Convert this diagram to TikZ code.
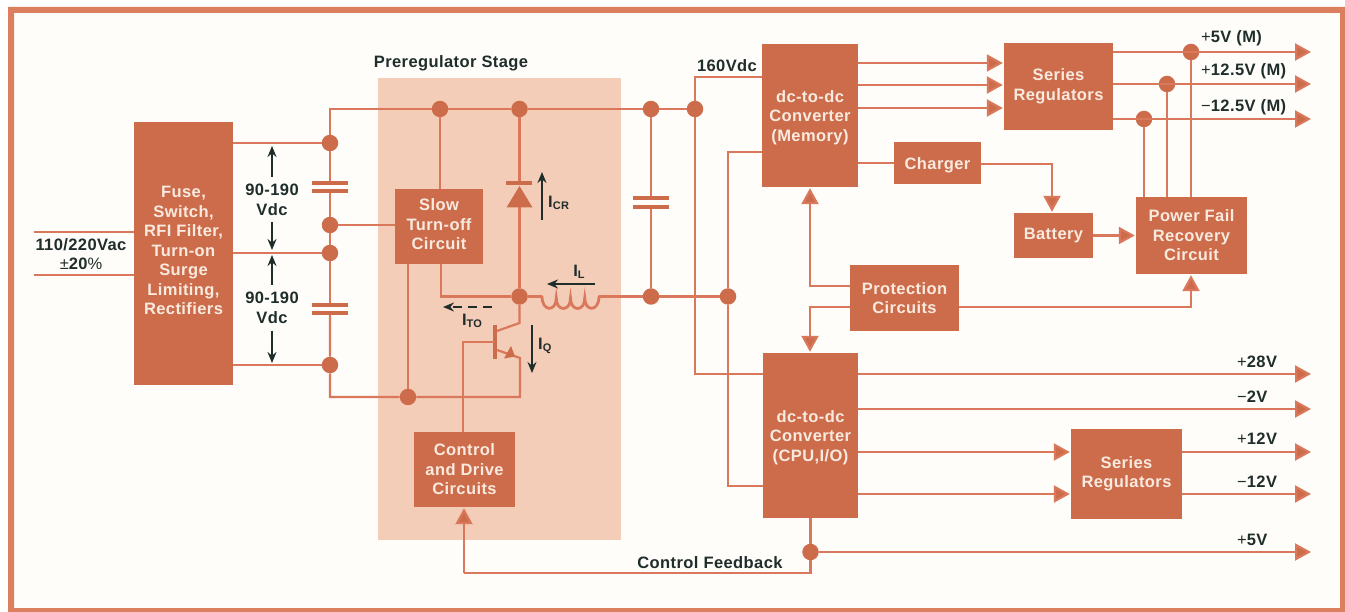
\documentclass[tikz,border=0pt]{standalone}
\usepackage{fontspec}
\setmainfont{Liberation Sans}[LetterSpace=2.5]
\usetikzlibrary{arrows.meta}
\definecolor{framec}{HTML}{DB7F5E}
\definecolor{boxc}{HTML}{CC6C4B}
\definecolor{wirec}{HTML}{D9785A}
\definecolor{shadec}{HTML}{F4CDB9}
\definecolor{paperc}{HTML}{FEFDF9}
\definecolor{inkc}{HTML}{1F2D2B}
\definecolor{boxtext}{HTML}{F9EADF}
\newcommand{\lblfont}{\fontsize{16.5}{19.5}\selectfont\bfseries}
\newcommand{\subs}[1]{\raisebox{-2.5pt}{\fontsize{11}{11}\selectfont #1}}
\newcommand{\thin}[1]{{\mdseries #1}}
\newcommand{\topstrut}[1]{\rule{0pt}{#1pt}}
\newcommand{\botstrut}[1]{\rule[-#1pt]{0pt}{0pt}}
\tikzset{
  box/.style={fill=boxc,inner sep=0pt,align=center,text=boxtext,font=\lblfont},
  dot/.style={circle,fill=boxc,minimum size=16.5pt,inner sep=0pt},
  wire/.style={draw=wirec,line width=2.2pt,line join=miter},
  awire/.style={wire,-{Triangle[length=16pt,width=17pt,fill=boxc]},shorten >=1pt},
  plate/.style={draw=boxc,line width=3.6pt},
  lbl/.style={text=inkc,font=\lblfont,align=center,inner sep=0pt},
  meas/.style={draw=inkc,line width=1.6pt,-{Stealth[length=11pt,width=9pt]}},
}
\begin{document}
\begin{tikzpicture}[x=1pt,y=-1pt]
\useasboundingbox (0,0) rectangle (1345,612);
\fill[white] (0,0) rectangle (1345,612);
\fill[paperc] (14,13) rectangle (1340,608);
\fill[framec,even odd rule] (8,7) rectangle (1345,612) (14,13) rectangle (1340,608);
\fill[shadec] (378,78) rectangle (621,540);
% boxes
\node[box,minimum width=99pt,minimum height=263pt] (fuse) at (183.5,253.5) {Fuse,\\Switch,\\RFI Filter,\\Turn-on\\Surge\\Limiting,\\Rectifiers\botstrut{6}};
\node[box,minimum width=88pt,minimum height=75pt] (slow) at (439,226.5) {Slow\\Turn-off\\Circuit\botstrut{4}};
\node[box,minimum width=101pt,minimum height=75pt] (ctrl) at (464.5,469.5) {Control\\and Drive\\Circuits};
\node[box,minimum width=96pt,minimum height=143pt] (mem) at (810,115.5) {\topstrut{16}dc-to-dc\\Converter\\(Memory)};
\node[box,minimum width=87pt,minimum height=42pt] (chg) at (937.5,163) {\topstrut{16}Charger};
\node[box,minimum width=109pt,minimum height=66pt] (prot) at (904.5,298) {Protection\\Circuits};
\node[box,minimum width=95pt,minimum height=165pt] (cpu) at (810.5,435.5) {\topstrut{16}dc-to-dc\\Converter\\(CPU,I/O)};
\node[box,minimum width=111pt,minimum height=90pt] (ser2) at (1126.5,474) {Series\\Regulators};
\node[box,minimum width=109pt,minimum height=87pt] (ser1) at (1058.5,86.5) {Series\\Regulators};
\node[box,minimum width=79pt,minimum height=45pt] (batt) at (1053.5,235.5) {Battery};
\node[box,minimum width=111pt,minimum height=77pt] (pf) at (1191.5,235.5) {Power Fail\\Recovery\\Circuit};
% junction dots
\node[dot] (a1) at (330,143) {};
\node[dot] (a2) at (330,225) {};
\node[dot] (a3) at (330,253) {};
\node[dot] (a4) at (330,365) {};
\node[dot] (t1) at (440,109) {};
\node[dot] (t2) at (519.5,109) {};
\node[dot] (t3) at (651,109) {};
\node[dot] (t4) at (695,109) {};
\node[dot] (m1) at (519.5,296.5) {};
\node[dot] (m2) at (651,296.5) {};
\node[dot] (m3) at (728,296.5) {};
\node[dot] (b1) at (408,397) {};
\node[dot] (o1) at (1191,52) {};
\node[dot] (o2) at (1167,84) {};
\node[dot] (o3) at (1144,119) {};
\node[dot] (fb) at (810.5,552) {};
% free ends
\coordinate (ac1) at (34,232);
\coordinate (ac2) at (34,275);
\coordinate (railL) at (330,109);
\coordinate (botL) at (330,397);
\coordinate (botR) at (520,397);
\coordinate (c1t) at (330,183);
\coordinate (c1b) at (330,191);
\coordinate (c2t) at (330,305);
\coordinate (c2b) at (330,313);
\coordinate (c3t) at (651,198);
\coordinate (c3b) at (651,207);
\coordinate (dBar) at (519.5,183);
\coordinate (dBase) at (519.5,207);
\coordinate (coilL) at (542,296.5);
\coordinate (coilR) at (599,296.5);
\coordinate (vL) at (695,77);
\coordinate (vB) at (695,374);
\coordinate (wL) at (728,152);
\coordinate (wB) at (728,486);
\coordinate (slowFoot) at (441,296.5);
\coordinate (qC) at (519.5,323);
\coordinate (qCb) at (497,331);
\coordinate (qE) at (520,358);
\coordinate (qEb) at (497,350);
\coordinate (qB) at (495,342);
\coordinate (qBL) at (463,342);
\coordinate (chgR) at (1052,164);
\coordinate (protU) at (810,286);
\coordinate (protD) at (810,307);
\coordinate (protR) at (1191,307);
\coordinate (fbC) at (810.5,573);
\coordinate (fbL) at (464,573);
\foreach \n/\y in {e1/52,e2/84,e3/119,e4/374,e5/409,e6/452,e7/494,e8/552}{\coordinate (\n) at (1312,\y);}
% wires: input
\draw[wire] (ac1) -- (ac1 -| fuse.west);
\draw[wire] (ac2) -- (ac2 -| fuse.west);
\draw[wire] (fuse.east |- a1) -- (a1);
\draw[wire] (fuse.east |- a3) -- (a3);
\draw[wire] (fuse.east |- a4) -- (a4);
\draw[wire] (a1) -- (railL) -- (t1) -- (t2) -- (t3) -- (t4);
\draw[wire] (a1) -- (c1t);
\draw[wire] (c1b) -- (a2) -- (a3) -- (c2t);
\draw[wire] (c2b) -- (a4) -- (botL) -- (b1) -- (botR) -- (qE) -- (qEb);
\draw[plate] (312,183) -- (348,183);
\draw[plate] (312,191) -- (348,191);
\draw[plate] (312,305) -- (348,305);
\draw[plate] (312,313) -- (348,313);
\draw[wire] (a2) -- (a2 -| slow.west);
\draw[wire] (t1) -- (t1 |- slow.north);
\draw[wire] (b1) -- (b1 |- slow.south);
\draw[wire] (slowFoot |- slow.south) -- (slowFoot) -- (m1);
% diode
\draw[wire] (t2) -- (dBar);
\draw[wire] (dBase) -- (m1);
\draw[plate] (506,183) -- (532,183);
\fill[boxc] (506.5,207.5) -- (532.5,207.5) -- (519.5,186) -- cycle;
% coil
\draw[wire] (m1) -- (coilL);
\draw[wire,line width=2.8pt,line cap=round] (coilL) .. controls (542,312) and (556.25,312) .. (556.25,298)
  .. controls (556.25,312) and (570.5,312) .. (570.5,298)
  .. controls (570.5,312) and (584.75,312) .. (584.75,298)
  .. controls (584.75,312) and (599,312) .. (coilR);
\draw[wire] (coilR) -- (m2) -- (m3);
% output capacitor
\draw[wire] (t3) -- (c3t);
\draw[wire] (c3b) -- (m2);
\draw[plate] (633,198) -- (669,198);
\draw[plate] (633,207) -- (669,207);
% transistor
\draw[wire] (m1) -- (qC) -- (qCb);
\draw[draw=boxc,line width=3.6pt] (495,325) -- (495,359);
\draw[wire] (qB) -- (qBL) -- (qBL |- ctrl.north);
\fill[boxc] (515,356.5) -- (504,358.5) -- (511,346) -- cycle;
% bus verticals to converters
\draw[wire] (t4) -- (vL) -- (vL -| mem.west);
\draw[wire] (t4) -- (vB) -- (vB -| cpu.west);
\draw[wire] (wL -| mem.west) -- (wL) -- (m3) -- (wB) -- (wB -| cpu.west);
% memory side
\foreach \y in {63,85,108}{\draw[awire] (mem.east |- 0,\y) -- (ser1.west |- 0,\y);}
\draw[wire] (mem.east |- chg.west) -- (chg.west);
\draw[awire] (chg.east |- chgR) -- (chgR) -- (batt.north -| chgR);
\draw[awire] (batt.east) -- (pf.west |- batt.east);
\draw[awire] (ser1.east |- e1) -- (e1);
\draw[awire] (ser1.east |- e2) -- (e2);
\draw[awire] (ser1.east |- e3) -- (e3);
\draw[wire] (o1) -- (o1 |- pf.north);
\draw[wire] (o2) -- (o2 |- pf.north);
\draw[wire] (o3) -- (o3 |- pf.north);
% protection
\draw[awire] (prot.west |- protU) -- (protU) -- (protU |- mem.south);
\draw[awire] (prot.west |- protD) -- (protD) -- (protD |- cpu.north);
\draw[awire] (prot.east |- protR) -- (protR) -- (protR |- pf.south);
% cpu side
\draw[awire] (cpu.east |- e4) -- (e4);
\draw[awire] (cpu.east |- e5) -- (e5);
\draw[awire] (cpu.east |- e6) -- (ser2.west |- e6);
\draw[awire] (cpu.east |- e7) -- (ser2.west |- e7);
\draw[awire] (ser2.east |- e6) -- (e6);
\draw[awire] (ser2.east |- e7) -- (e7);
\draw[wire] (fb |- cpu.south) -- (fb) -- (fbC) -- (fbL);
\draw[awire] (fbL) -- (fbL |- ctrl.south);
\draw[awire] (fb) -- (e8);
% measurement arrows
\draw[meas] (272,177) -- (272,146);
\draw[meas] (272,222) -- (272,250);
\draw[meas] (272,285) -- (272,255);
\draw[meas] (272,331) -- (272,363);
\draw[meas] (542,220) -- (542,172);
\draw[meas] (595,284) -- (547,284);
\draw[meas,dashed,dash pattern=on 9pt off 6pt] (492,307) -- (443,307);
\draw[meas] (532,325) -- (532,373);
% labels
\node[lbl] (v1) at (272,200) {90-190\\Vdc};
\node[lbl] (v2) at (272,308) {90-190\\Vdc};
\node[lbl] (ac) at (81,254) {110/220Vac\\\thin{±}20\thin{\%}};
\node[lbl,anchor=west] (icr) at (548,203) {I\subs{CR}};
\node[lbl] (il) at (579,272) {I\subs{L}};
\node[lbl] (ito) at (472,321) {I\subs{TO}};
\node[lbl,anchor=west] (iq) at (538,346) {I\subs{Q}};
\node[lbl] (pre) at (451,63) {Preregulator Stage};
\node[lbl] (vdc) at (727,66) {160Vdc};
\node[lbl] (cf) at (710,563) {Control Feedback};
\node[lbl,anchor=west] (l1) at (1201,38) {\thin{+}5V (M)};
\node[lbl,anchor=west] (l2) at (1201,71) {\thin{+}12.5V (M)};
\node[lbl,anchor=west] (l3) at (1201,107) {\thin{−}12.5V (M)};
\node[lbl,anchor=west] (l4) at (1237,362) {\thin{+}28V};
\node[lbl,anchor=west] (l5) at (1237,397) {\thin{−}2V};
\node[lbl,anchor=west] (l6) at (1237,439) {\thin{+}12V};
\node[lbl,anchor=west] (l7) at (1237,482) {\thin{−}12V};
\node[lbl,anchor=west] (l8) at (1237,540) {\thin{+}5V};
\end{tikzpicture}
\end{document}
